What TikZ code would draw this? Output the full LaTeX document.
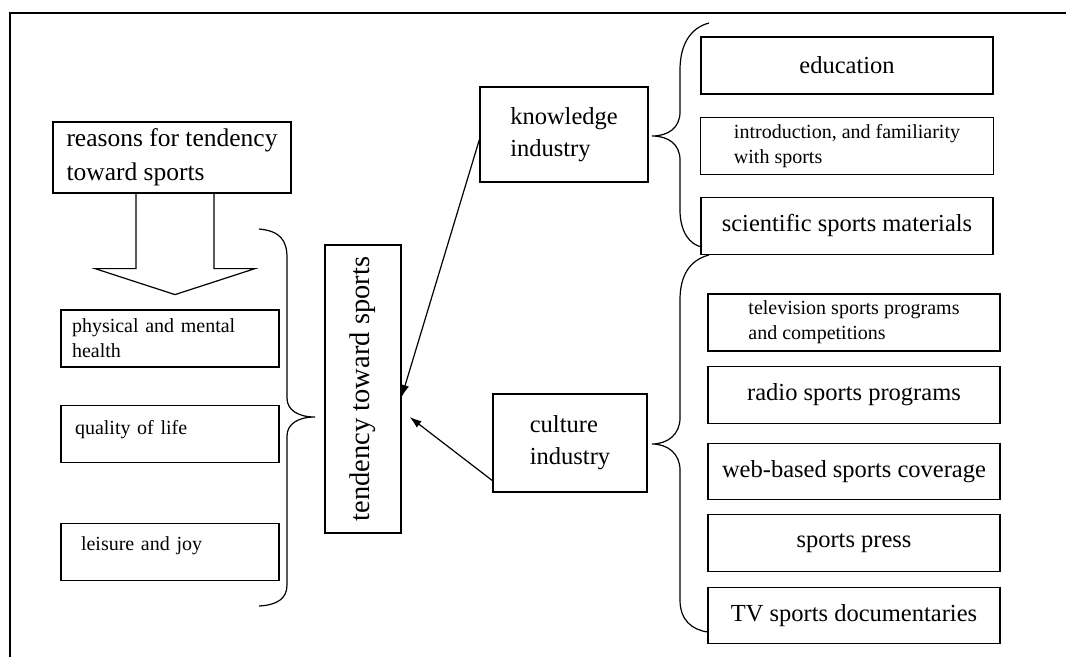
\documentclass[tikz,border=0pt]{standalone}
\usepackage{fontspec}
\setmainfont{Liberation Serif}
\usetikzlibrary{positioning,arrows.meta}

\begin{document}
\begin{tikzpicture}[
	x=1pt, y=-1pt,
	line width=1.2pt,
	mynode/.style={draw, rectangle, inner sep=0pt, align=center, minimum width=292pt, minimum height=57pt, font=\fontsize{24.5}{32}\selectfont},
	smallnode/.style={draw, rectangle, inner sep=0pt, align=left, minimum width=292pt, minimum height=57pt, font=\fontsize{20}{25}\selectfont},
	leftnode/.style={draw, rectangle, inner ysep=0pt, align=left, minimum height=57pt, font=\fontsize{20}{25}\selectfont},
	myarrow/.style={-{Latex[length=12pt,width=8pt]}}
	]
	\useasboundingbox (0,0) rectangle (1066,657);
	\draw (1066,13) -- (10,13) -- (10,657);

	\node[mynode, align=left, minimum width=238pt, minimum height=71pt, font=\fontsize{25.5}{34}\selectfont] (reasons) at (172,157.5) {reasons for tendency\\toward sports};
	\node[leftnode, inner xsep=11pt, text width=196pt] (phys) at (170,338.5) {physical and mental\\health};
	\node[leftnode, inner xsep=14pt, text width=190pt, text height=29pt, text depth=28pt, below=37pt of phys] (qol) {quality of life};
	\node[leftnode, inner xsep=20pt, text width=178pt, text height=27pt, text depth=29pt, below=60pt of qol] (leis) {leisure and joy};

	\node[mynode, minimum width=76pt, minimum height=288pt, font=\fontsize{28.5}{32}\selectfont] (tend) at (363,389) {\rotatebox{90}{tendency toward sports}};

	\node[mynode, align=left, minimum width=168pt, minimum height=95pt] (know) at (564,134.5) {knowledge\\industry};
	\node[mynode, align=left, minimum width=154pt, minimum height=98pt] (cult) at (570,443) {culture\\industry};

	\node[mynode] (edu) at (847,65.5) {education};
	\node[smallnode, minimum width=293pt, below=22pt of edu] (intro) {introduction, and familiarity\\with sports};
	\node[mynode, below=22pt of intro] (sci) {scientific sports materials};

	\node[smallnode] (tele) at (854,322.5) {television sports programs\\and competitions};
	\node[mynode, below=14pt of tele] (radio) {radio sports programs};
	\node[mynode, minimum height=56pt, below=19pt of radio] (web) {web-based sports coverage};
	\node[mynode, below=14pt of web] (press) {sports press};
	\node[mynode, minimum height=56pt, below=15pt of press] (docs) {TV sports documentaries};

	% block arrow under the reasons box
	\draw ([xshift=-36pt]reasons.south) -- ++(0,75) -- ++(-41,0) -- ++(80,26) -- ++(80,-26) -- ++(-41,0) -- ++(0,-75);

	% braces
	\draw (259,229) .. controls (280,231) and (287,240) .. (287,258) -- (287,398)
		.. controls (287,410) and (298,417) .. (315,417)
		.. controls (298,417) and (287,424) .. (287,436) -- (287,585)
		.. controls (287,598) and (278,605) .. (259,606);
	\draw (709,23) .. controls (690,28) and (680,45) .. (680,70) -- (680,112)
		.. controls (680,128) and (668,136) .. (652,136)
		.. controls (668,136) and (680,144) .. (680,160) -- (680,210)
		.. controls (680,232) and (690,245) .. (702,247);
	\draw (709,255) .. controls (690,260) and (680,275) .. (680,300) -- (680,418)
		.. controls (680,434) and (668,444) .. (652,444)
		.. controls (668,444) and (680,454) .. (680,470) -- (680,600)
		.. controls (680,620) and (692,630) .. (708,632);

	\path ([yshift=-5pt]know.west) edge[myarrow] ([yshift=-8pt]tend.east)
	([yshift=12pt]cult.south west) edge[myarrow] ([xshift=8pt,yshift=-28pt]tend.east);
\end{tikzpicture}
\end{document}
